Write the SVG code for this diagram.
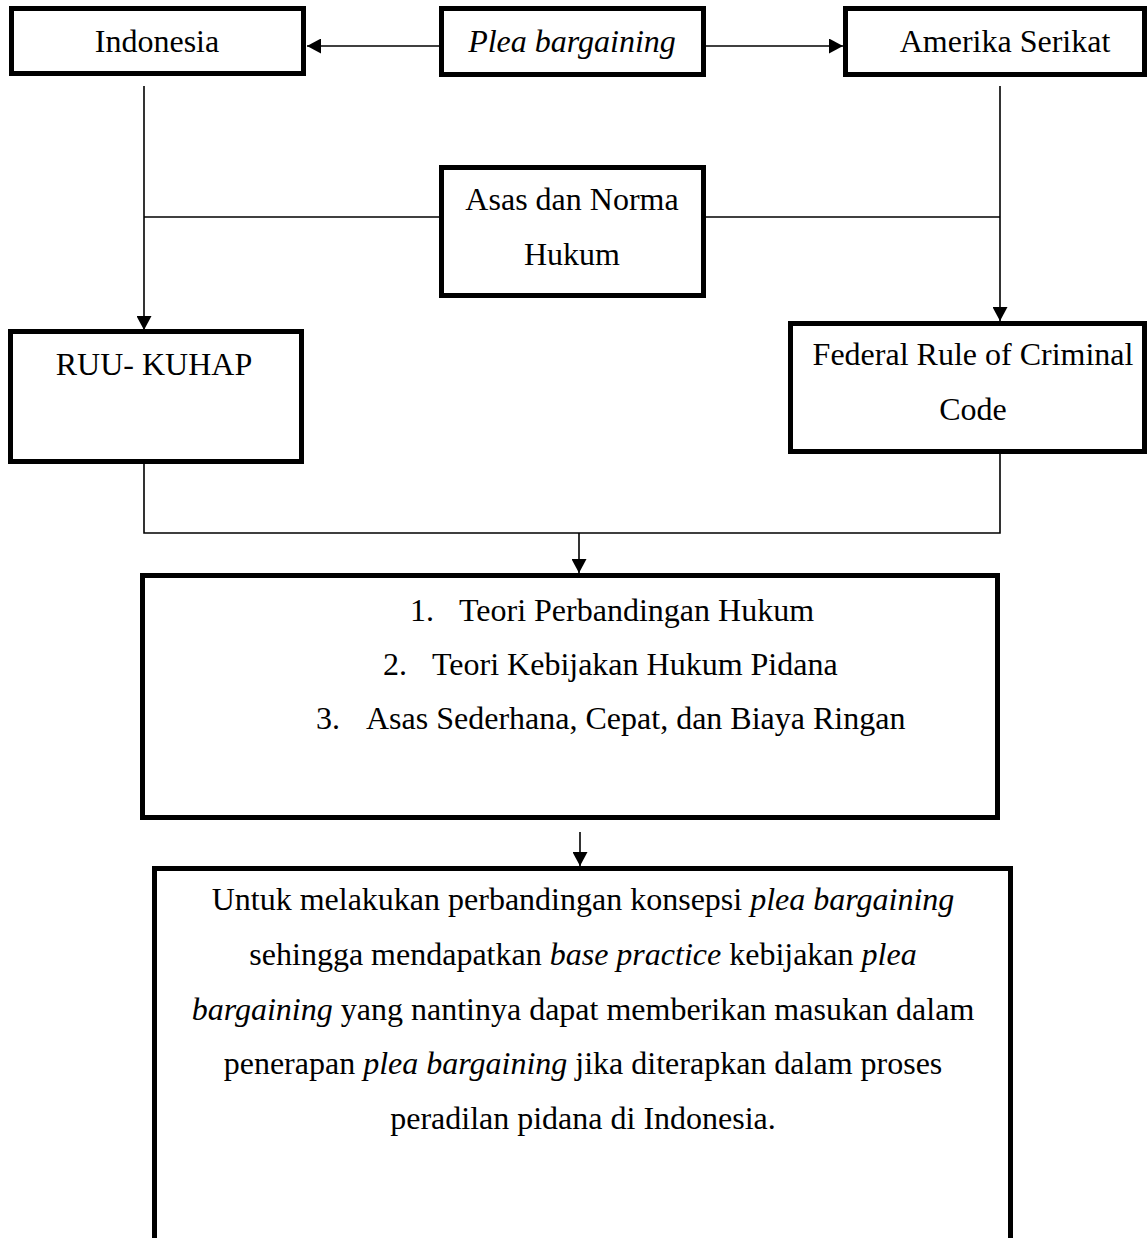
<svg xmlns="http://www.w3.org/2000/svg" width="1148" height="1238" viewBox="0 0 1148 1238">
<style>
  .box { fill: #ffffff; stroke: #000000; stroke-width: 5; }
  .t { font-family: "Liberation Serif", "Times New Roman", serif; font-size: 32px; fill: #000000; }
  .c { text-anchor: middle; }
  .i { font-style: italic; }
  .ln { fill: none; stroke: #000000; stroke-width: 1.6; }
  .arr { marker-end: url(#ah); }
</style>
<defs>
  <marker id="ah" viewBox="0 0 14 15" refX="14" refY="7.5" markerWidth="14" markerHeight="15" markerUnits="userSpaceOnUse" orient="auto">
    <path d="M0,0 L14,7.5 L0,15 Z" fill="#000000"/>
  </marker>
</defs>
<rect width="1148" height="1238" fill="#ffffff"/>

<g id="connectors">
  <line class="ln arr" x1="439" y1="46" x2="307" y2="46"/>
  <line class="ln arr" x1="706" y1="46" x2="843" y2="46"/>
  <line class="ln arr" x1="144" y1="86" x2="144" y2="330"/>
  <line class="ln arr" x1="1000" y1="86" x2="1000" y2="321"/>
  <line class="ln" x1="144" y1="217" x2="439" y2="217"/>
  <line class="ln" x1="706" y1="217" x2="1000" y2="217"/>
  <polyline class="ln" points="144,464 144,533 1000,533 1000,454"/>
  <line class="ln arr" x1="579" y1="533" x2="579" y2="573"/>
  <line class="ln arr" x1="580" y1="832" x2="580" y2="866"/>
</g>

<g id="node-indonesia">
  <rect class="box" x="11.5" y="8.5" width="292" height="65"/>
  <text class="t c" x="157" y="52">Indonesia</text>
</g>

<g id="node-plea">
  <rect class="box" x="441.5" y="8.5" width="262" height="66"/>
  <text class="t c i" x="572" y="52">Plea bargaining</text>
</g>

<g id="node-amerika">
  <rect class="box" x="845.5" y="8.5" width="299" height="66"/>
  <text class="t c" x="1005" y="52">Amerika Serikat</text>
</g>

<g id="node-asas">
  <rect class="box" x="441.5" y="167.5" width="262" height="128"/>
  <text class="t c" x="572" y="210">Asas dan Norma</text>
  <text class="t c" x="572" y="265">Hukum</text>
</g>

<g id="node-ruu">
  <rect class="box" x="10.5" y="331.5" width="291" height="130"/>
  <text class="t c" x="154" y="375">RUU- KUHAP</text>
</g>

<g id="node-federal">
  <rect class="box" x="790.5" y="323.5" width="354" height="128"/>
  <text class="t c" x="973" y="365">Federal Rule of Criminal</text>
  <text class="t c" x="973" y="420">Code</text>
</g>

<g id="node-teori">
  <rect class="box" x="142.5" y="575.5" width="855" height="242"/>
  <text class="t" x="410" y="621">1.</text>
  <text class="t" x="459" y="621">Teori Perbandingan Hukum</text>
  <text class="t" x="383" y="675">2.</text>
  <text class="t" x="432" y="675">Teori Kebijakan Hukum Pidana</text>
  <text class="t" x="316" y="729">3.</text>
  <text class="t" x="366" y="729">Asas Sederhana, Cepat, dan Biaya Ringan</text>
</g>

<g id="node-tujuan">
  <rect class="box" x="154.5" y="868.5" width="856" height="420"/>
  <text class="t c" x="583" y="910">Untuk melakukan perbandingan konsepsi <tspan class="i">plea bargaining</tspan></text>
  <text class="t c" x="583" y="965">sehingga mendapatkan <tspan class="i">base practice</tspan> kebijakan <tspan class="i">plea</tspan></text>
  <text class="t c" x="583" y="1020"><tspan class="i">bargaining</tspan> yang nantinya dapat memberikan masukan dalam</text>
  <text class="t c" x="583" y="1074">penerapan <tspan class="i">plea bargaining</tspan> jika diterapkan dalam proses</text>
  <text class="t c" x="583" y="1129">peradilan pidana di Indonesia.</text>
</g>
</svg>
